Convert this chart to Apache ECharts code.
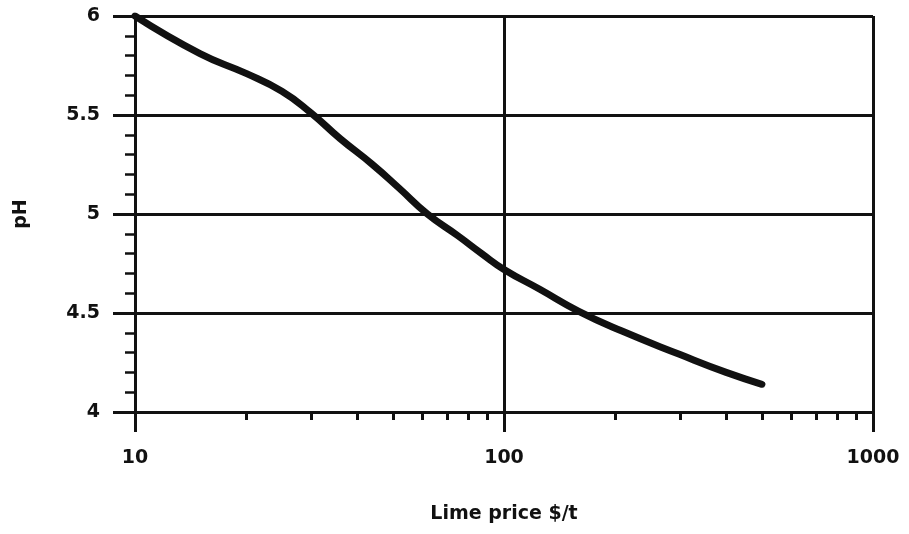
<!DOCTYPE html>
<html>
<head>
<meta charset="utf-8">
<script src="https://cdn.jsdelivr.net/npm/echarts@6/dist/echarts.min.js"></script>
<style>
html,body{margin:0;padding:0;background:#fff;}
#chart{width:909px;height:534px;}
</style>
</head>
<body>
<div id="chart"></div>
<script>
// Data
const limePrice = [10, 15, 20, 25, 30, 36, 44, 52, 62, 75, 87, 100, 125, 159, 208, 300, 400, 500];
const phValues  = [6.0, 5.81, 5.71, 5.62, 5.51, 5.38, 5.25, 5.13, 5.0, 4.89, 4.80, 4.72, 4.62, 4.51, 4.41, 4.29, 4.20, 4.14];
const xMajorTicks = [10, 100, 1000];
const xTickLabels = ['10', '100', '1000'];
const xMinorTicks = [20, 30, 40, 50, 60, 70, 80, 90, 200, 300, 400, 500, 600, 700, 800, 900];
const yTickLabels = ['4', '4.5', '5', '5.5', '6'];

const FONT = 'DejaVu Sans';
const INK = '#111';

const chart = echarts.init(document.getElementById('chart'), null, {renderer: 'canvas'});
chart.setOption({
  animation: false,
  backgroundColor: '#fff',
  grid: {left: 135, right: 36, top: 16, bottom: 122},
  xAxis: [{
    type: 'log',
    logBase: 10,
    min: xMajorTicks[0],
    max: xMajorTicks[xMajorTicks.length - 1],
    name: 'Lime price $/t',
    nameLocation: 'middle',
    nameGap: 93,
    nameTextStyle: {fontFamily: FONT, fontSize: 19, fontWeight: 'bold', color: INK},
    axisLine: {show: true, lineStyle: {color: INK, width: 3}},
    axisTick: {show: true, length: 20, lineStyle: {color: INK, width: 3}},
    axisLabel: {fontFamily: FONT, fontSize: 19, fontWeight: 'bold', color: INK, margin: 37,
      formatter: (v) => {
        const i = xMajorTicks.findIndex(t => Math.abs(t - v) < 1e-6 * t);
        return i >= 0 ? xTickLabels[i] : '';
      }},
    splitLine: {show: true, lineStyle: {color: INK, width: 3}},
    minorTick: {show: false}
  }, {
    type: 'value',
    position: 'bottom',
    min: Math.log10(xMajorTicks[0]),
    max: Math.log10(xMajorTicks[xMajorTicks.length - 1]),
    axisLine: {show: false},
    axisTick: {show: true, length: 8, customValues: xMinorTicks.map(v => Math.log10(v)), lineStyle: {color: INK, width: 3}},
    axisLabel: {show: false},
    splitLine: {show: false}
  }],
  yAxis: {
    type: 'value',
    min: 4,
    max: 6,
    interval: 0.5,
    name: 'pH',
    nameLocation: 'middle',
    nameGap: 104,
    nameTextStyle: {fontFamily: FONT, fontSize: 19, fontWeight: 'bold', color: INK},
    axisLine: {show: true, lineStyle: {color: INK, width: 3}},
    axisTick: {show: true, length: 22, lineStyle: {color: INK, width: 3}},
    minorTick: {show: true, splitNumber: 5, length: 10, lineStyle: {color: INK, width: 2.5}},
    axisLabel: {fontFamily: FONT, fontSize: 19, fontWeight: 'bold', color: INK, margin: 35,
      formatter: (v) => yTickLabels.find(t => parseFloat(t) === v) || ''},
    splitLine: {show: true, lineStyle: {color: INK, width: 3}}
  },
  series: [{
    type: 'line',
    xAxisIndex: 0,
    data: limePrice.map((p, i) => [p, phValues[i]]),
    showSymbol: false,
    smooth: 0.5,
    lineStyle: {color: INK, width: 7, cap: 'round', join: 'round'},
    z: 5
  }]
});
</script>
</body>
</html>
